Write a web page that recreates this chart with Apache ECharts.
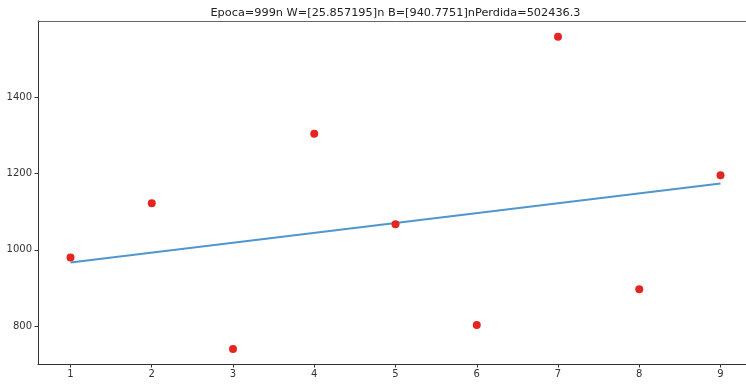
<!DOCTYPE html>
<html>
<head>
<meta charset="utf-8">
<script src="https://cdn.jsdelivr.net/npm/echarts@6/dist/echarts.min.js"></script>
<style>
  html, body { margin: 0; padding: 0; background: #fff; overflow: hidden; }
  #chart { width: 760px; height: 384px; }
</style>
</head>
<body>
<div id="chart"></div>
<script>
// Observed samples
const xs = [1, 2, 3, 4, 5, 6, 7, 8, 9];
const ys = [980, 1122, 740, 1304, 1067, 803, 1558, 897, 1195];

// Fitted line endpoints (y = W*x + B, W=25.857195, B=940.7751)
const lineX = [1, 9];
const lineY = [966.63, 1173.49];

// Tick positions
const xTicks = [1, 2, 3, 4, 5, 6, 7, 8, 9];
const yTicks = [800, 1000, 1200, 1400];

const titleText = 'Epoca=999n W=[25.857195]n B=[940.7751]nPerdida=502436.3';

const chart = echarts.init(document.getElementById('chart'), null, { renderer: 'canvas' });

const axisColor = '#333';
const labelFont = { color: '#333', fontSize: 10, fontFamily: 'DejaVu Sans' };

chart.setOption({
  animation: false,
  backgroundColor: '#fff',
  title: {
    text: titleText,
    left: 390.5,
    textAlign: 'center',
    top: 3,
    textStyle: { fontFamily: 'DejaVu Sans', fontSize: 11.3, fontWeight: 'normal', color: '#222' }
  },
  grid: { left: 38, top: 21, width: 715, bottom: 20, containLabel: false, show: false },
  xAxis: [
    {
      type: 'value',
      min: 0.6,
      max: 9.4,
      splitLine: { show: false },
      axisLine: { show: true, onZero: false, lineStyle: { color: axisColor, width: 1 } },
      axisTick: { show: true, length: 3.5, customValues: xTicks, lineStyle: { color: axisColor } },
      axisLabel: Object.assign({ customValues: xTicks, margin: 5, formatter: v => String(v) }, labelFont)
    },
    {
      // top spine
      type: 'value',
      position: 'top',
      min: 0.6,
      max: 9.4,
      splitLine: { show: false },
      axisLine: { show: true, onZero: false, lineStyle: { color: '#666', width: 1 } },
      axisTick: { show: false },
      axisLabel: { show: false }
    }
  ],
  yAxis: {
    type: 'value',
    min: 701,
    max: 1599,
    splitLine: { show: false },
    axisLine: { show: true, onZero: false, lineStyle: { color: axisColor, width: 1 } },
    axisTick: { show: true, length: 3.5, customValues: yTicks, lineStyle: { color: axisColor } },
    axisLabel: Object.assign({ customValues: yTicks, margin: 6, formatter: v => String(v) }, labelFont)
  },
  series: [
    {
      type: 'line',
      data: lineX.map((x, i) => [x, lineY[i]]),
      showSymbol: false,
      symbol: 'none',
      lineStyle: { color: '#4f97cd', width: 2 },
      z: 2
    },
    {
      type: 'scatter',
      data: xs.map((x, i) => [x, ys[i]]),
      symbol: 'circle',
      symbolSize: 8,
      itemStyle: { color: '#e3261f', opacity: 1 },
      z: 3
    }
  ]
});
</script>
</body>
</html>
